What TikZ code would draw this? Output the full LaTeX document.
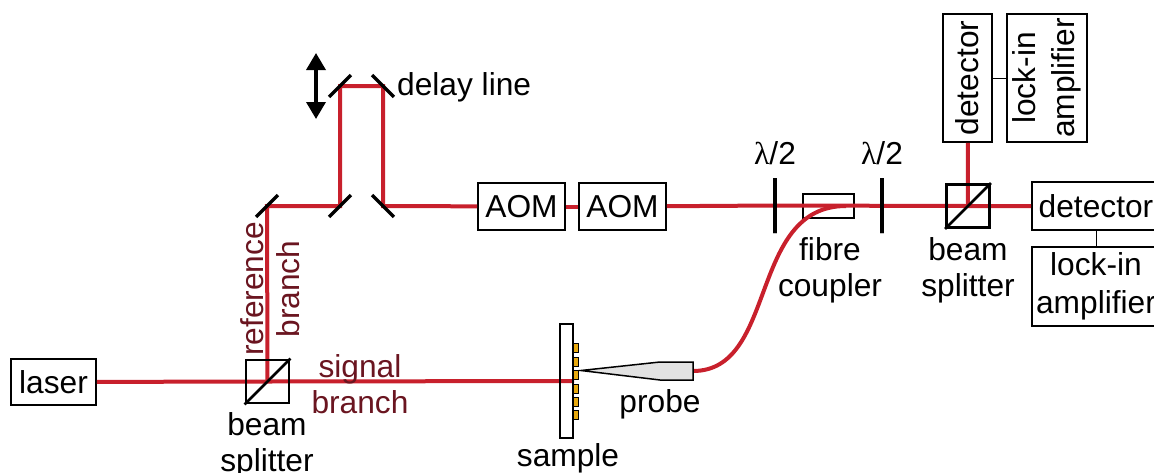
\documentclass[tikz,border=0pt]{standalone}
\usepackage{fontspec}
\usetikzlibrary{arrows.meta}
\setmainfont{Liberation Sans}
\newfontfamily\lamfont{Liberation Serif}
\definecolor{beamred}{HTML}{C8202C}
\definecolor{branchtext}{HTML}{6A1520}
\definecolor{padgold}{HTML}{E8A90F}
\definecolor{probegrey}{HTML}{E2E2E2}
\tikzset{
	beam/.style={beamred,line width=4pt},
	box/.style={draw,line width=1.8pt,inner sep=0pt,align=center,font=\fontsize{31.7}{35.5}\selectfont},
	lbl/.style={inner sep=0pt,align=center,font=\fontsize{31.7}{36}\selectfont},
	mirror/.style={draw,line width=3.5pt,inner sep=0pt,minimum height=0pt,minimum width=31pt},
	splitter/.style={draw,line width=2.8pt,inner sep=0pt,minimum size=43pt},
	plate/.style={draw,line width=3.5pt,inner sep=0pt,minimum height=55pt,minimum width=0pt},
}
\begin{document}
\begin{tikzpicture}[x=1pt,y=-1pt]
	\useasboundingbox (0,0) rectangle (1154,472);
	\node[box,minimum width=85pt,minimum height=46pt] (laser) at (53.5,382) {laser};
	\node[box,minimum width=87pt,minimum height=47pt] (aomone) at (521.5,206.5) {AOM};
	\node[box,minimum width=87pt,minimum height=47pt] (aomtwo) at (622.5,206.5) {AOM};
	\node[box,minimum width=51pt,minimum height=24pt] (coupler) at (828.5,206) {};
	\node[box,minimum width=49pt,minimum height=128pt] (detone) at (967.5,78) {};
	\node[rotate=90,lbl] at (detone) {detector};
	\node[box,minimum width=80pt,minimum height=128pt] (lockone) at (1047,78) {};
	\node[rotate=90,lbl] at (lockone) {lock-in\\[3pt]amplifier};
	\node[box,minimum width=128pt,minimum height=48pt] (dettwo) at (1096,206) {detector};
	\node[box,minimum width=128pt,minimum height=79pt] (locktwo) at (1096,286.5) {lock-in\\[3pt]amplifier};
	\foreach \n/\x/\y in {bsone/267.5/381.5,bstwo/968/206,mone/267/206,mtwo/340/206,mthree/383/206,mfour/340/86,mfive/383/86}
		\coordinate (\n) at (\x,\y);
	\foreach \n/\x in {plone/775,pltwo/882}
		\node[plate] (\n) at (\x,205.5) {};
	% sample and probe
	\node[draw,line width=2pt,inner sep=0pt,minimum width=13pt,minimum height=114pt] (sample) at (566.5,381) {};
	\foreach \y in {348,361.5,375,388.5,401.5,414.5}
		\node[draw,line width=0.8pt,fill=padgold,inner sep=0pt,minimum width=5pt,minimum height=9pt] at (576,\y) {};
	\coordinate (probeend) at (693,371);
	\draw[beam] (laser) -- (bsone) -- (sample.east);
	\draw[beam] (bsone) -- (mone) -- (mtwo) -- (mfour) -- (mfive) -- (mthree) -- (aomone);
	\draw[beam] (aomone) -- (aomtwo);
	\draw[beam] (aomtwo) -- (plone.center) -- (bstwo) -- (dettwo);
	\draw[beam] (bstwo) -- (detone);
	\draw[beam] (probeend) .. controls (778,371) and (748,206) .. (846,206);
	\foreach \n/\a in {mone/45,mtwo/45,mthree/-45,mfour/45,mfive/-45}
		\node[mirror,rotate=\a] at (\n) {};
	\foreach \n in {plone,pltwo}
		\node[plate] at (\n) {};
	\foreach \n in {bsone,bstwo}{
		\node[splitter] (box\n) at (\n) {};
		\draw[line width=2.8pt] (box\n.south west) -- (box\n.north east);
	}
	\node[draw,line width=2pt,inner sep=0pt,minimum width=13pt,minimum height=114pt] at (sample) {};
	\draw[line width=1.5pt,fill=probegrey] (581,370.5) -- (660,362) -- (693,362) -- (693,380) -- (660,380) -- cycle;
	\draw[line width=1pt] (detone) -- (lockone);
	\draw[line width=1pt] (dettwo) -- (locktwo);
	\draw[line width=3.5pt,{Triangle[length=17pt,width=19pt]}-{Triangle[length=17pt,width=19pt]}] (316,53) -- (316,119);
	% labels
	\node[lbl,anchor=west] (delay) at (397,87) {delay line};
	\node[lbl] (lamone) at (775,153) {{\lamfont λ}/2};
	\node[lbl] (lamtwo) at (882,153) {{\lamfont λ}/2};
	\node[lbl] at (830,270) {fibre\\coupler};
	\node[lbl] at (968,270) {beam\\splitter};
	\node[lbl] at (267,445) {beam\\splitter};
	\node[lbl] at (568,458) {sample};
	\node[lbl] at (660,404) {probe};
	\node[lbl,branchtext] at (360,384) {signal\\branch};
	\node[lbl,branchtext,rotate=90] at (270,289) {reference\\branch};
\end{tikzpicture}
\end{document}
